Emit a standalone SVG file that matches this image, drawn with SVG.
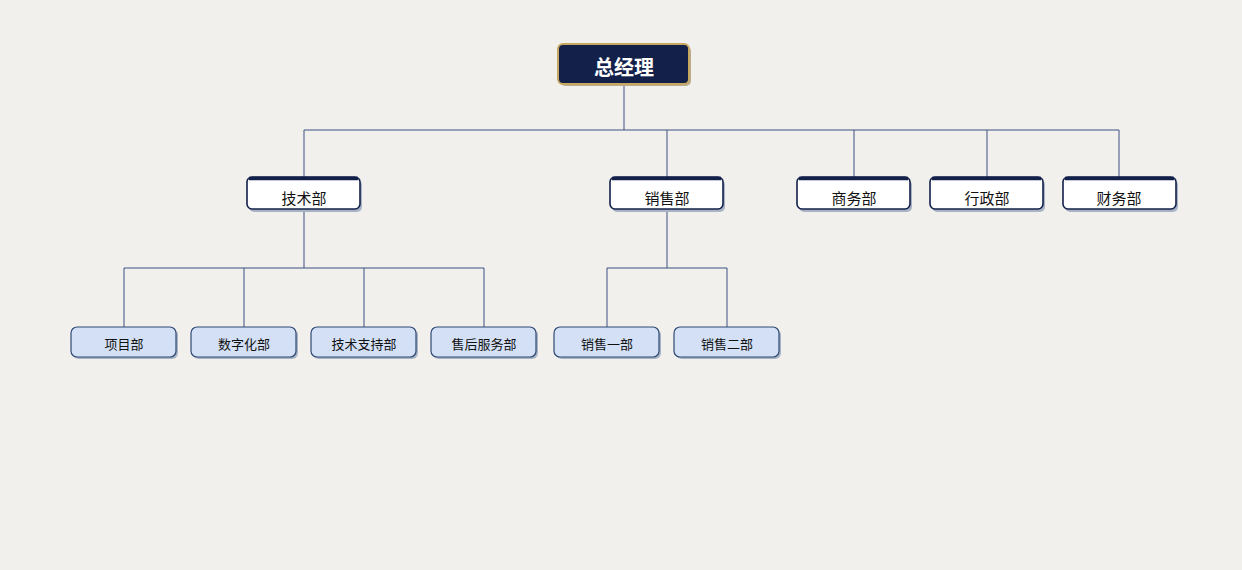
<svg xmlns="http://www.w3.org/2000/svg" width="1242" height="570" viewBox="0 0 1242 570">
<defs><style>
text{font-family:"Noto Sans CJK SC","Noto Sans",sans-serif;text-anchor:middle;dominant-baseline:central}
.sh{fill:#a9b3c6}
.l2{fill:#fff;stroke:#13204a;stroke-width:1.6}
.l3{fill:#d3e0f5;stroke:#2f4a73;stroke-width:1.2}
.t2{font-size:15px;fill:#111}
.t3{font-size:13px;fill:#111}
.c{fill:none;stroke:#3c5080;stroke-width:1}
</style></defs>
<rect width="1242" height="570" fill="#f1f0ed"/>
<g id="connectors" class="c">
<path d="M624 84V130M304 130H1119M304 130V177M667 130V177M854 130V177M987 130V177M1119 130V177"/>
<path d="M304 210V268M124 268H484M124 268V327M244 268V327M364 268V327M484 268V327"/>
<path d="M667 210V268M607 268H727M607 268V327M727 268V327"/>
</g>
<g id="n0"><rect x="560" y="46" width="131" height="40" rx="5" fill="#b9ad8e"/><rect x="558" y="44" width="131" height="40" rx="5" fill="#13204a" stroke="#c8a860" stroke-width="2"/><text x="624" y="66" font-size="20" font-weight="bold" fill="#fff">总经理</text></g>
<g id="n1"><rect x="249" y="180" width="113" height="32" rx="5" class="sh"/><rect x="247" y="177" width="113" height="32" rx="5" class="l2"/><path d="M249 178.5H358" stroke="#13204a" stroke-width="3.5"/><text x="304" y="197" class="t2">技术部</text></g>
<g id="n2"><rect x="612" y="180" width="113" height="32" rx="5" class="sh"/><rect x="610" y="177" width="113" height="32" rx="5" class="l2"/><path d="M612 178.5H721" stroke="#13204a" stroke-width="3.5"/><text x="667" y="197" class="t2">销售部</text></g>
<g id="n3"><rect x="799" y="180" width="113" height="32" rx="5" class="sh"/><rect x="797" y="177" width="113" height="32" rx="5" class="l2"/><path d="M799 178.5H908" stroke="#13204a" stroke-width="3.5"/><text x="854" y="197" class="t2">商务部</text></g>
<g id="n4"><rect x="932" y="180" width="113" height="32" rx="5" class="sh"/><rect x="930" y="177" width="113" height="32" rx="5" class="l2"/><path d="M932 178.5H1041" stroke="#13204a" stroke-width="3.5"/><text x="987" y="197" class="t2">行政部</text></g>
<g id="n5"><rect x="1065" y="180" width="113" height="32" rx="5" class="sh"/><rect x="1063" y="177" width="113" height="32" rx="5" class="l2"/><path d="M1065 178.5H1174" stroke="#13204a" stroke-width="3.5"/><text x="1119" y="197" class="t2">财务部</text></g>
<g id="n6"><rect x="73" y="329" width="105" height="30" rx="6" class="sh"/><rect x="71" y="327" width="105" height="30" rx="6" class="l3"/><text x="124" y="343" class="t3">项目部</text></g>
<g id="n7"><rect x="193" y="329" width="105" height="30" rx="6" class="sh"/><rect x="191" y="327" width="105" height="30" rx="6" class="l3"/><text x="244" y="343" class="t3">数字化部</text></g>
<g id="n8"><rect x="313" y="329" width="105" height="30" rx="6" class="sh"/><rect x="311" y="327" width="105" height="30" rx="6" class="l3"/><text x="364" y="343" class="t3">技术支持部</text></g>
<g id="n9"><rect x="433" y="329" width="105" height="30" rx="6" class="sh"/><rect x="431" y="327" width="105" height="30" rx="6" class="l3"/><text x="484" y="343" class="t3">售后服务部</text></g>
<g id="n10"><rect x="556" y="329" width="105" height="30" rx="6" class="sh"/><rect x="554" y="327" width="105" height="30" rx="6" class="l3"/><text x="607" y="343" class="t3">销售一部</text></g>
<g id="n11"><rect x="676" y="329" width="105" height="30" rx="6" class="sh"/><rect x="674" y="327" width="105" height="30" rx="6" class="l3"/><text x="727" y="343" class="t3">销售二部</text></g>
</svg>
